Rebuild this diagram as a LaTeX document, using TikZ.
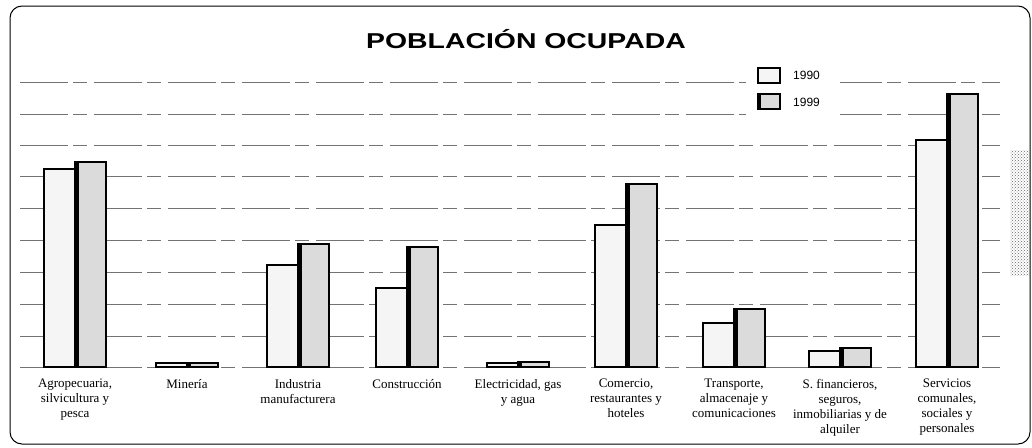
\documentclass[tikz,border=0pt]{standalone}
\usepackage{fontspec}
\setmainfont{Liberation Serif}
\newfontfamily\sansf{Liberation Sans}
\usetikzlibrary{patterns}
\newcommand\catbars[3]{%
  \draw[bar90] (#1,367) rectangle ({#1+31},#2);
  \draw[bar99] ({#1+31},367) rectangle ({#1+62},#3);
  \fill[black] ({#1+31},367) rectangle ({#1+35},#3);
}
\begin{document}
\begin{tikzpicture}[x=1pt,y=-1pt,
  gridline/.style={black!55, line width=0.6pt, dash pattern=on 48pt off 5pt on 14pt off 7pt},
  bar90/.style={draw=black, line width=1.3pt, fill=gray!8},
  bar99/.style={draw=black, line width=1.6pt, fill=gray!28},
  catlabel/.style={font=\fontsize{13}{15}\selectfont, align=center, anchor=north, inner sep=0pt},
  legtext/.style={font=\sansf\fontsize{12}{14}\selectfont, anchor=west, inner sep=0pt}]
\useasboundingbox (0,0) rectangle (1032,447);
\fill[white] (0,0) rectangle (1032,447);
% frame
\draw[line width=1pt, rounded corners=12pt] (10,6) rectangle (1030,444);
% title
\node[font=\sansf\bfseries\fontsize{21.5}{24}\selectfont, anchor=base, inner sep=0pt] (title) at (526,48) {\scalebox{1.32}[1]{POBLACIÓN OCUPADA}};
% grid
\foreach \y in {82,114,145,176,208,240,272,304,336,367}
  \draw[gridline] (20,\y) -- (1000,\y);
% legend
\fill[white] (746,60) rectangle (840,125);
\draw[bar90] (758,68) rectangle (780,83);
\node[legtext] (leg90) at (793,75) {1990};
\draw[bar99] (758,94) rectangle (780,109);
\fill[black] (758,94) rectangle (761,109);
\node[legtext] (leg99) at (793,102) {1999};
% scan blob at right
\fill[pattern=crosshatch dots, pattern color=black!60] (1010,150) rectangle (1030,275);
% bars
\catbars{44}{169}{162}
\catbars{156}{363}{363}
\catbars{267}{265}{244}
\catbars{376}{288}{247}
\catbars{487}{363}{362}
\catbars{595}{225}{184}
\catbars{703}{323}{309}
\catbars{809}{351}{348}
\catbars{916}{140}{94}
% labels
\node[catlabel] (c1) at (75,379) {Agropecuaria,\\silvicultura y\\pesca};
\node[catlabel] (c2) at (187,379) {Minería};
\node[catlabel] (c3) at (298,379) {Industria\\manufacturera};
\node[catlabel] (c4) at (407,379) {Construcción};
\node[catlabel] (c5) at (518,379) {Electricidad, gas\\y agua};
\node[catlabel] (c6) at (626,379) {Comercio,\\restaurantes y\\hoteles};
\node[catlabel] (c7) at (734,379) {Transporte,\\almacenaje y\\comunicaciones};
\node[catlabel] (c8) at (840,379) {S. financieros,\\seguros,\\inmobiliarias y de\\alquiler};
\node[catlabel] (c9) at (947,379) {Servicios\\comunales,\\sociales y\\personales};
\end{tikzpicture}
\end{document}
